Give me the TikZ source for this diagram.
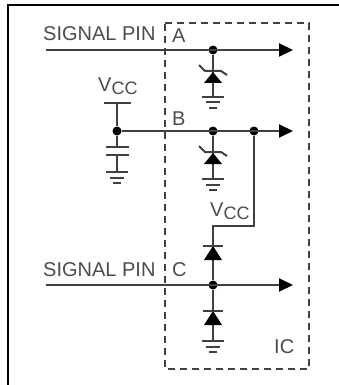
\documentclass[tikz,border=0pt]{standalone}
\usepackage{fontspec}
\setmainfont{Liberation Sans}
\usetikzlibrary{arrows.meta}
\definecolor{wire}{gray}{0.25}
\definecolor{txt}{gray}{0.3}
\newcommand{\vcclab}{V\raisebox{-3pt}{\fontsize{18}{20}\selectfont CC}}
\tikzset{
	wire/.style={draw=wire,line width=2pt},
	sig/.style={wire,-{Triangle[length=14pt,width=13pt,color=black]}},
	dot/.style={circle,fill=black,inner sep=0pt,minimum size=9pt},
	lab/.style={text=txt,inner sep=0pt,font=\fontsize{20}{22}\selectfont,anchor=base west},
	ground/.pic={
		\draw[wire] (-11,0) -- (11,0);
		\draw[wire] (-7,5.5) -- (7,5.5);
		\draw[wire,line width=2.5pt] (-4,11) -- (4,11);
	},
	diode/.pic={
		\fill (0,0) -- (9,14) -- (-9,14) -- cycle;
		\draw[wire] (-10,0) -- (10,0);
	},
	zener/.pic={
		\fill (0,0) -- (9,11) -- (-9,11) -- cycle;
		\draw[wire] (-14,-7) -- (-8,-1) -- (8,-1) -- (14,3);
	},
}
\begin{document}
\begin{tikzpicture}[x=1pt,y=-1pt]
	\useasboundingbox (0,0) rectangle (339,385);
	% frame and IC outline
	\draw[line width=1.7pt] (8,385) -- (8,5) -- (339,5);
	\draw[draw=wire,line width=2pt,dash pattern=on 7pt off 5pt] (165,23) -- (309,23) -- (309,369) -- (165,369) -- cycle;

	% dots
	\node[dot] (a) at (213,50) {};
	\node[dot] (v) at (117,131) {};
	\node[dot] (b) at (213,131) {};
	\node[dot] (t) at (254,131) {};
	\node[dot] (c) at (213,285) {};

	% free ends
	\coordinate (ain) at (46,50);
	\coordinate (aout) at (293,50);
	\coordinate (bout) at (293,131);
	\coordinate (cin) at (46,285);
	\coordinate (cout) at (293,285);
	\coordinate (vtop) at (117,103);
	\coordinate (capa) at (117,147);
	\coordinate (capb) at (117,155);
	\coordinate (gndv) at (117,172);
	\coordinate (gnda) at (213,97);
	\coordinate (gndb) at (213,179);
	\coordinate (gndc) at (213,341);
	\coordinate (knee) at (254,226);
	\coordinate (top) at (213,226);

	\draw[sig] (ain) -- (aout);
	\draw[sig] (v) -- (bout);
	\draw[sig] (cin) -- (cout);
	\draw[wire] (vtop) -- (v) -- (capa);
	\draw[wire] (capb) -- (gndv);
	\draw[wire] (vtop) ++(-13,0) -- ++(27,0);
	\draw[wire] (capa) ++(-11,0) -- ++(23,0);
	\draw[wire] (capb) ++(-11,0) -- ++(23,0);
	\draw[wire] (a) -- (gnda);
	\draw[wire] (b) -- (gndb);
	\draw[wire] (t) -- (knee) -- (top) -- (c) -- (gndc);

	\pic at (gndv) {ground};
	\pic at (gnda) {ground};
	\pic at (gndb) {ground};
	\pic at (gndc) {ground};
	\pic at (213,72) {zener};
	\pic at (213,153) {zener};
	\pic at (213,246) {diode};
	\pic at (213,311) {diode};

	% labels
	\node[lab] (pina) at (43,41) {SIGNAL PIN};
	\node[lab] (pinc) at (43,276) {SIGNAL PIN};
	\node[lab] (la) at (172,43) {A};
	\node[lab] (lb) at (172,125) {B};
	\node[lab] (lc) at (172,276) {C};
	\node[lab] (ic) at (274,353) {IC};
	\node[lab] (vcca) at (98,92) {\vcclab};
	\node[lab] (vccb) at (210,216) {\vcclab};
\end{tikzpicture}
\end{document}
